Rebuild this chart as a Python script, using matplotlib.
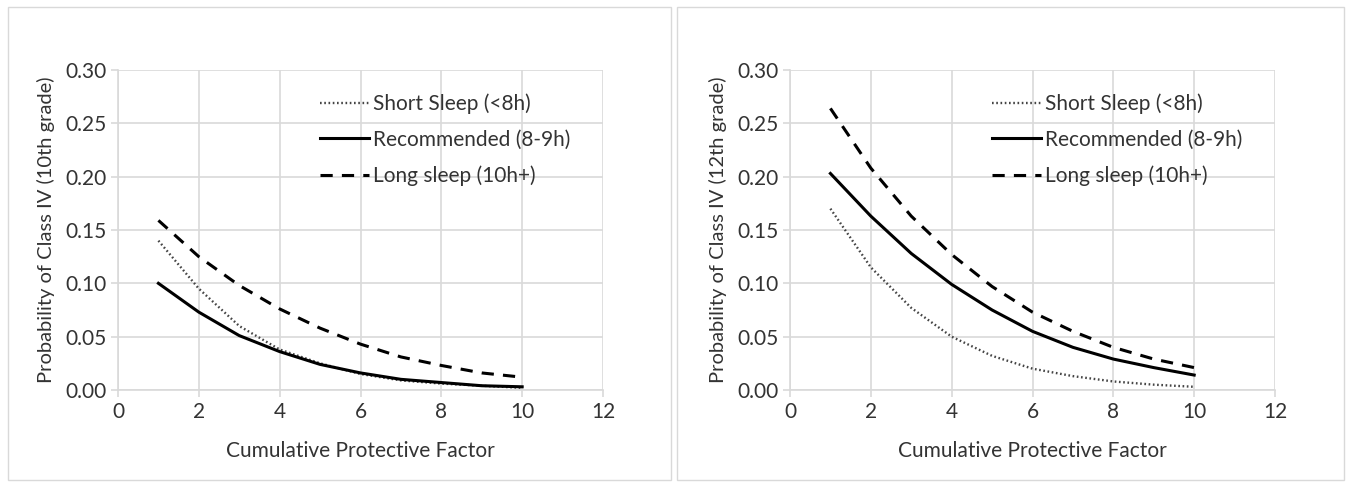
import numpy as np
import matplotlib.pyplot as plt
from matplotlib.patches import Rectangle

factor = [1, 2, 3, 4, 5, 6, 7, 8, 9, 10]

# 10th grade
short_10 = [0.140, 0.095, 0.060, 0.038, 0.025, 0.015, 0.009, 0.006, 0.004, 0.002]
rec_10 = [0.100, 0.073, 0.051, 0.036, 0.024, 0.016, 0.010, 0.007, 0.004, 0.003]
long_10 = [0.159, 0.125, 0.098, 0.076, 0.058, 0.043, 0.031, 0.023, 0.016, 0.012]

# 12th grade
short_12 = [0.170, 0.115, 0.077, 0.050, 0.032, 0.020, 0.013, 0.008, 0.005, 0.003]
rec_12 = [0.203, 0.163, 0.128, 0.099, 0.075, 0.055, 0.040, 0.029, 0.021, 0.014]
long_12 = [0.264, 0.208, 0.163, 0.127, 0.097, 0.073, 0.055, 0.040, 0.029, 0.021]

labels = ["Short Sleep (<8h)", "Recommended (8-9h)", "Long sleep (10h+)"]
ylabels = ["Probability of Class IV (10th grade)", "Probability of Class IV (12th grade)"]

plt.rcParams['font.family'] = ['Lato', 'DejaVu Sans']
text_col = '#333333'
grid_col = '#d9d9d9'

fig = plt.figure(figsize=(13.51, 4.87), dpi=100)

# panel frames
fig.patches.append(Rectangle((8 / 1351, 7 / 487), 663 / 1351, 473 / 487,
                             transform=fig.transFigure, fill=False, edgecolor=grid_col, lw=1))
fig.patches.append(Rectangle((677 / 1351, 7 / 487), 667 / 1351, 473 / 487,
                             transform=fig.transFigure, fill=False, edgecolor=grid_col, lw=1))

panels = [(118, short_10, rec_10, long_10, ylabels[0]),
          (790, short_12, rec_12, long_12, ylabels[1])]

for x0, s, r, l, yl in panels:
    ax = fig.add_axes([x0 / 1351, 97 / 487, 485 / 1351, 320 / 487])
    ax.plot(factor, s, color='#444444', lw=1.7, linestyle=(0, (0.7, 1.1)), label=labels[0])
    ax.plot(factor, r, color='black', lw=2.2, linestyle='-', label=labels[1])
    ax.plot(factor, l, color='black', lw=2.2, linestyle=(0, (4, 3)), label=labels[2])
    ax.set_xlim(0, 12)
    ax.set_ylim(0, 0.30)
    ax.set_xticks(range(0, 13, 2))
    ax.set_yticks(np.arange(0, 0.301, 0.05))
    ax.set_yticklabels([f"{v:.2f}" for v in np.arange(0, 0.301, 0.05)])
    ax.grid(True, color=grid_col, lw=1.2)
    ax.set_axisbelow(True)
    for side in ['top', 'right']:
        ax.spines[side].set_visible(False)
    for side in ['left', 'bottom']:
        ax.spines[side].set_color(grid_col)
        ax.spines[side].set_linewidth(1.2)
    ax.tick_params(colors=grid_col, labelcolor=text_col, labelsize=15, length=5, width=1.2)
    ax.set_xlabel("Cumulative Protective Factor", fontsize=15, color=text_col, labelpad=14)
    ax.set_ylabel(yl, fontsize=14.5, color=text_col, labelpad=7)
    ax.legend(loc='upper left', bbox_to_anchor=(0.378, 0.985), frameon=False,
              prop={'size': 15}, handlelength=2.35, handletextpad=0.2,
              labelspacing=0.75, labelcolor=text_col)

fig.savefig("out.png", dpi=100, facecolor='white')
